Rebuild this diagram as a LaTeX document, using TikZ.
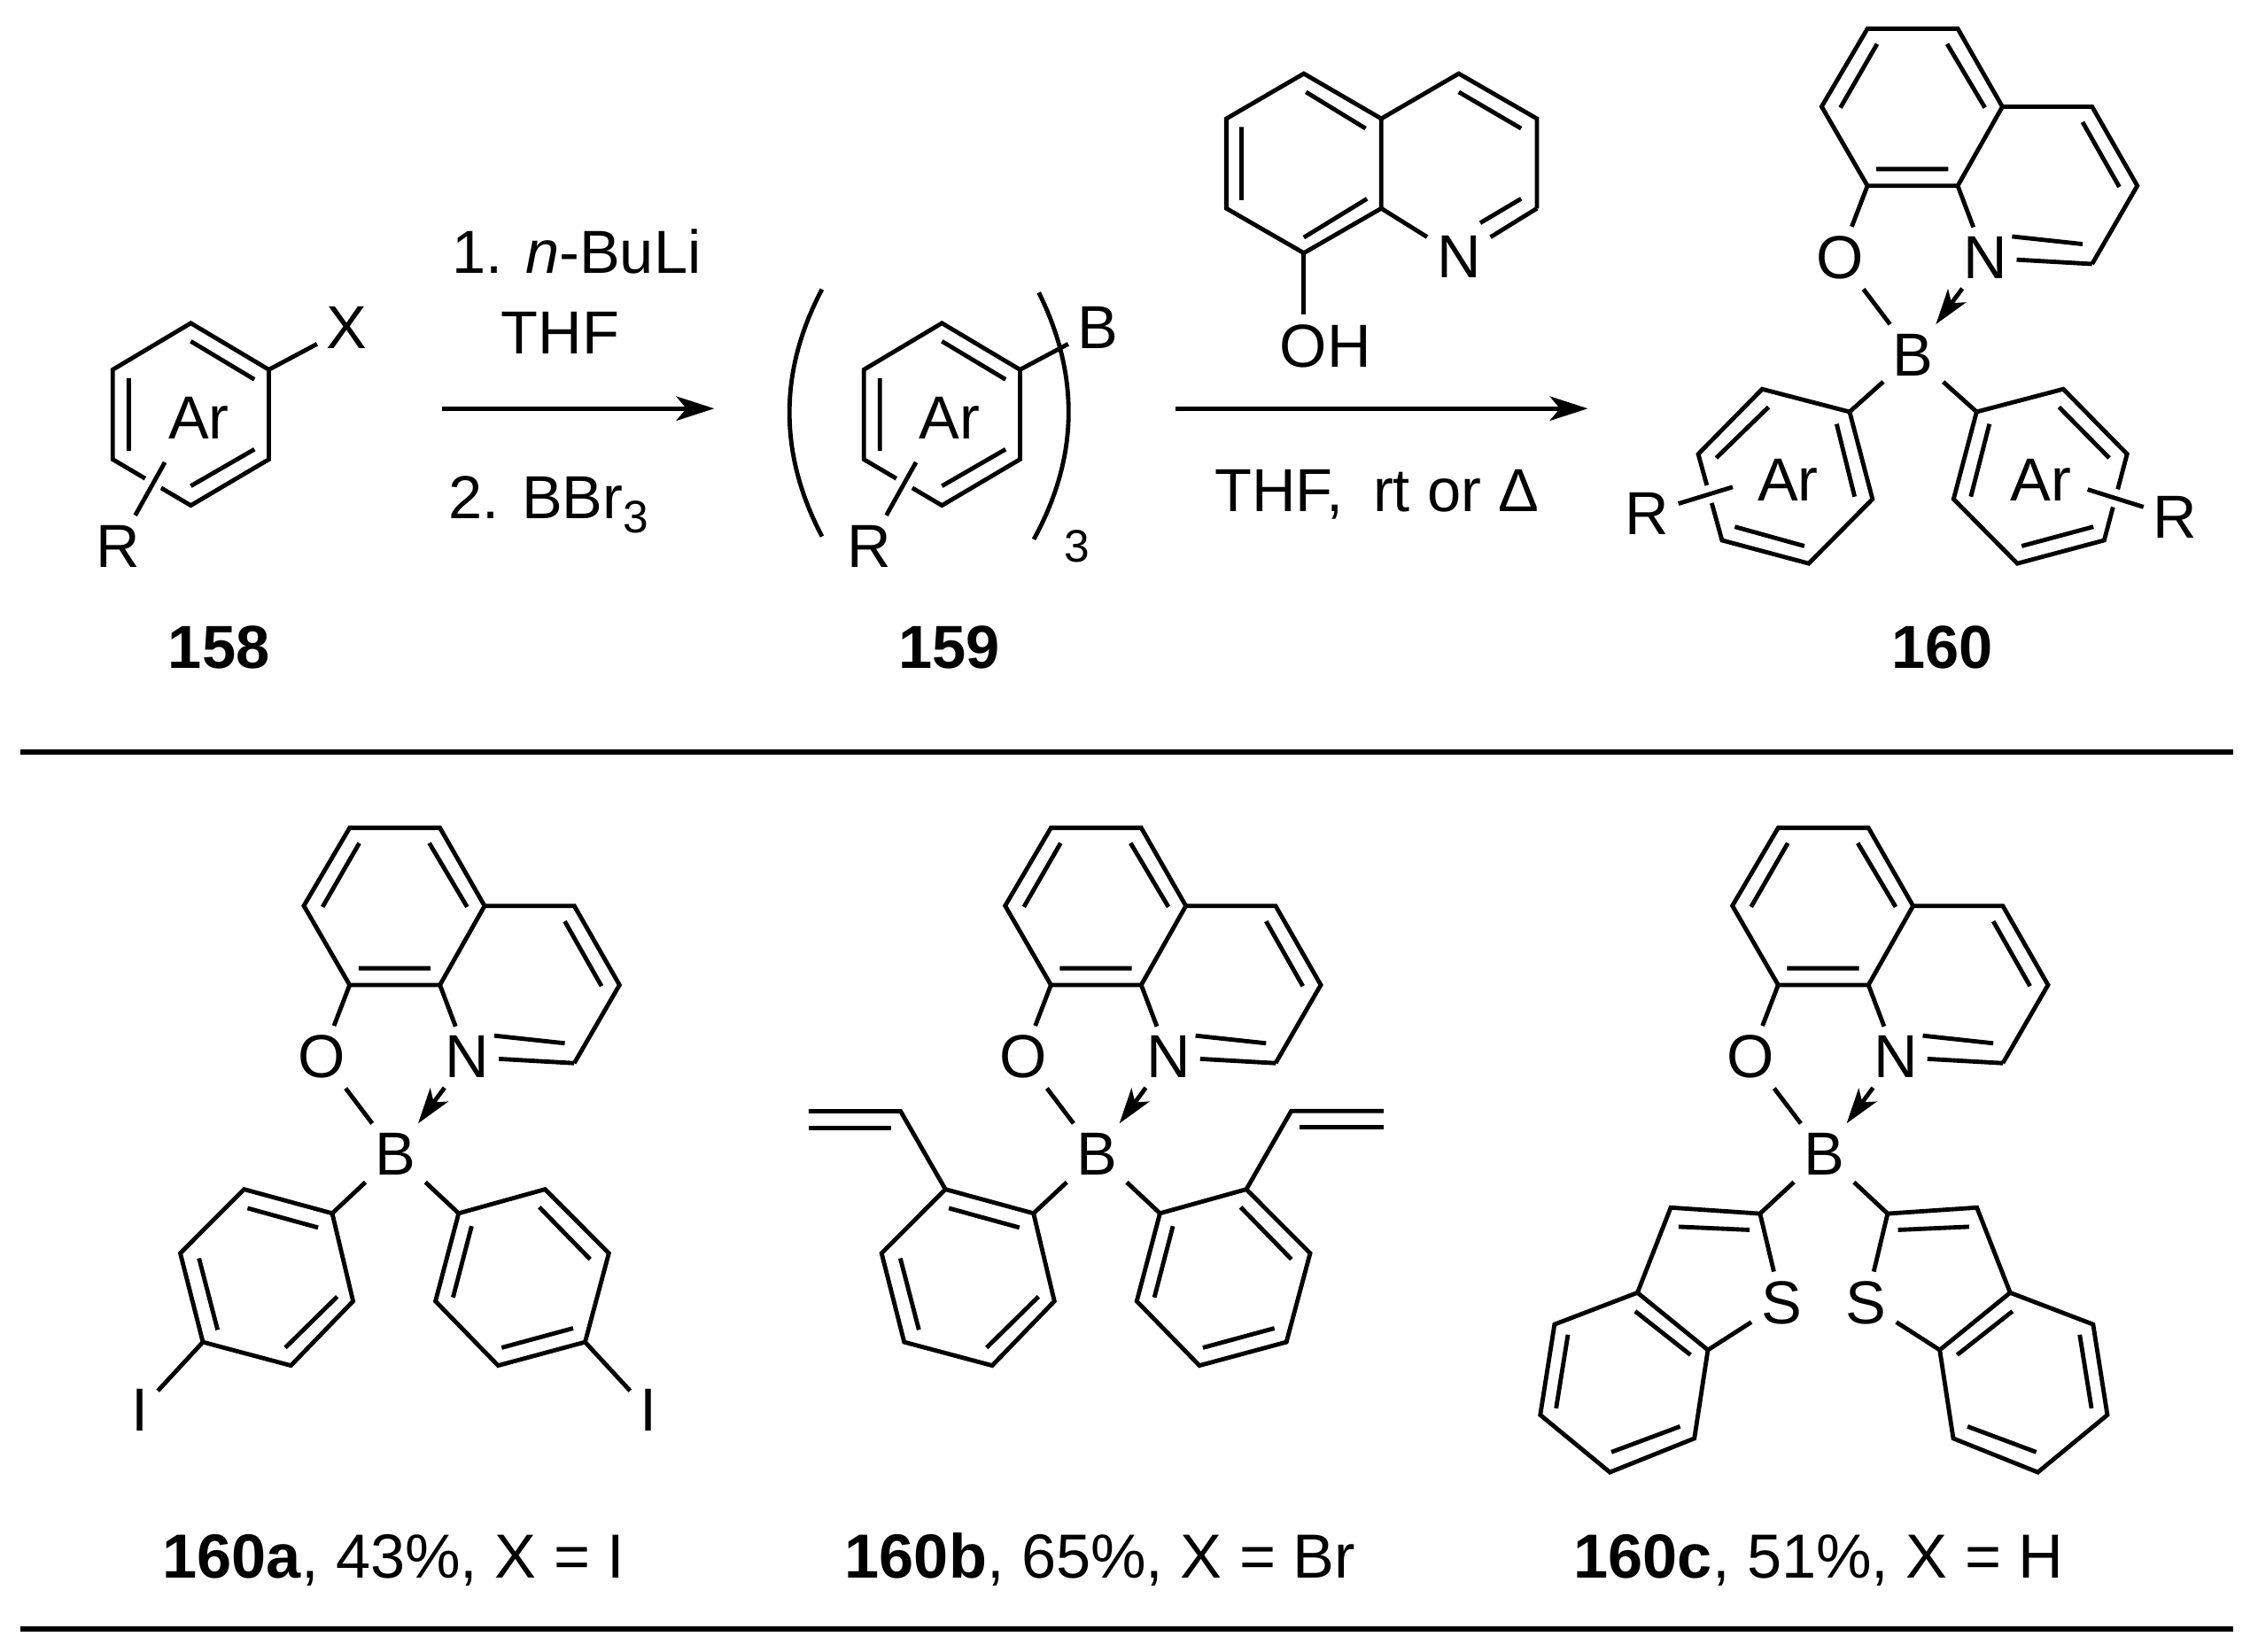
\documentclass[tikz,border=0pt]{standalone}
\usepackage{fontspec}
\setmainfont{Liberation Sans}
\usetikzlibrary{arrows.meta}

\tikzset{
  atom/.style={anchor=base, inner sep=1.5pt},
  yieldlabel/.style={anchor=base, font=\fontsize{12.3}{14}\selectfont},
  subst/.style={preaction={draw=white, line width=3.6pt}},
  arr/.style={-{Stealth[length=7.5pt, width=4.8pt, inset=2pt]}},
  dative/.style={-{Stealth[length=7pt, width=4.4pt, inset=1.8pt]}},
  rule/.style={line width=1.05pt},
  % quinolinolate chelate with boron
  core/.pic={
    \coordinate (-c8) at (242.8,684);
    \coordinate (-c8a) at (305.5,684);
    \coordinate (-c2) at (398.8,738.3);
    \node[atom] (-O) at (223.6,748.6) {O};
    \node[atom] (-N) at (324.4,748.6) {N};
    \node[atom] (-B) at (274.6,816) {B};
    \draw (-c8) -- (211,629) -- (242.8,574.9) -- (305.5,574.9) -- (336.5,629.1) -- (-c8a) -- cycle;
    \draw (336.5,629.1) -- (398.8,629.1) -- (430.2,684) -- (-c2);
    \draw (249.5,585.5) -- (224,629.8) (298.1,585.5) -- (324.4,629.8) (249,672.4) -- (298.9,672.4);
    \draw (392.2,639.8) -- (417.7,684.8) (343.2,719.2) -- (392.2,724.5);
    \draw (-c2) -- (-N);
    \draw (-c8) -- (-O);
    \draw (-c8a) -- (-N);
    \draw (-O) -- (-B);
    \draw[dative] (-N) -- (-B);
  },
  % phenyl rings on boron, left and right
  aryl left/.pic={
    \coordinate (-ipso) at (230.7,842.6);
    \coordinate (-para) at (140.9,932);
    \coordinate (-ortho) at (169.5,825.9);
    \draw (-ipso) -- (-ortho) -- (125.2,870.3) -- (-para) -- (202,948.3) -- (245.2,903.6) -- cycle;
    \draw (171.9,839) -- (220.9,852.5) (138.2,873.8) -- (151.1,923.5) (198.1,935.9) -- (234.2,900.4);
  },
  aryl right/.pic={
    \coordinate (-ipso) at (318.5,842.6);
    \coordinate (-para) at (406.3,932);
    \coordinate (-ortho) at (378.5,825.9);
    \draw (-ipso) -- (-ortho) -- (422.8,870.3) -- (-para) -- (345.9,948.3) -- (302.4,903.6) -- cycle;
    \draw (327.5,851.5) -- (314.6,901) (374.5,838.3) -- (409.8,874.5) (398,922.4) -- (348.3,935.9);
  },
  % benzothiophene
  thienyl/.pic={
    \coordinate (-c2) at (1222.2,842.8);
    \coordinate (-c7a) at (1186,937.5);
    \node[atom] (-S) at (1237,919.3) {S};
    \draw (-c2) -- (1160.2,838.6) -- (1137.1,897.7) -- (-c7a);
    \draw (1137.1,897.7) -- (1079.5,919.7) -- (1069.6,982.6) -- (1117.9,1022.4) -- (1176.6,998.9) -- (-c7a);
    \draw (1165.6,851.9) -- (1215,854.1) (1135.5,910.6) -- (1173.9,940.9);
    \draw (1088.8,926.9) -- (1080.6,978) (1119,1008.4) -- (1166.7,990.6);
    \draw (-c2) -- (-S);
    \draw (-S) -- (-c7a);
  }
}

\begin{document}
\begin{tikzpicture}[x=0.01cm, y=-0.01cm, line width=0.85pt,
  every node/.style={font=\fontsize{12}{14}\selectfont}]
\path[use as bounding box, fill=white] (0,0) rectangle (1568,1147);

% 158
\coordinate (xA) at (186.7,256.7);
\coordinate (rA) at (114.5,321);
\node[atom] (X) at (241,242.3) {X};
\node[atom] (RA) at (82,393.7) {R};
\node[atom] (ArA) at (138,304.5) {Ar};
\draw (132.5,224.4) -- (xA) -- (186.7,319) -- (132.5,351) -- (78.3,319) -- (78.3,256.7) -- cycle;
\draw (132.5,237) -- (176.7,263.5) (89.4,262.5) -- (89.4,313) (132.5,337.5) -- (176.7,312);
\draw (xA) -- (X);
\draw[subst] (rA) -- (RA);
\node[atom] (l158) at (152,464.4) {\textbf{158}};

% conditions 1
\coordinate (a1s) at (307.2,283.7);
\coordinate (a1e) at (496,283.7);
\draw[arr] (a1s) -- (a1e);
\node[atom] (t1) at (400.5,190) {1. \textit{n}-BuLi};
\node[atom] (t2) at (389,245.6) {THF};
\node[atom] (t3) at (381,360) {2. BBr\raisebox{-2.8pt}{\fontsize{9}{10}\selectfont 3}};

% 159
\coordinate (xB) at (708.3,256.7);
\coordinate (rB) at (636.1,321);
\node[atom] (BB) at (762.6,242.3) {B};
\node[atom] (RB) at (603.6,393.7) {R};
\node[atom] (ArB) at (659.6,304.5) {Ar};
\draw (654.1,224.4) -- (xB) -- (708.3,319) -- (654.1,351) -- (599.9,319) -- (599.9,256.7) -- cycle;
\draw (654.1,237) -- (698.3,263.5) (611,262.5) -- (611,313) (654.1,337.5) -- (698.3,312);
\draw (xB) -- (BB);
\draw[subst] (rB) -- (RB);
\draw (570.8,200.9) .. controls (540.7,258) and (540.7,315) .. (570.8,372.5);
\draw (721.4,203.2) .. controls (749.5,260) and (749.5,317) .. (717.9,374.5);
\node[atom, font=\fontsize{9}{10}\selectfont] (three) at (748,390) {3};
\node[atom] (l159) at (659,464.4) {\textbf{159}};

% hydroxyquinoline
\coordinate (c8) at (905.4,175.7);
\coordinate (c8a) at (959.2,144.7);
\coordinate (c2) at (1067.3,144.7);
\node[atom] (N) at (1013,192.8) {N};
\node[atom] (OH) at (920.4,254.7) {OH};
\draw (c8) -- (851.6,144.7) -- (851.6,82.4) -- (905.4,51.1) -- (959.2,82.4) -- (c8a) -- cycle;
\draw (959.2,82.4) -- (1013,51.1) -- (1067.3,82.4) -- (c2);
\draw (906.9,63.9) -- (948.3,89.2) (862.1,88.2) -- (862.1,139) (905.4,164.9) -- (949.3,138);
\draw (1013,63.9) -- (1056.3,89.2) (1056.3,138) -- (1027.9,154.8);
\draw (c2) -- (N);
\draw (c8a) -- (N);
\draw (c8) -- (OH.north -| c8);

% conditions 2
\coordinate (a2s) at (816.3,283.7);
\coordinate (a2e) at (1102.6,283.7);
\draw[arr] (a2s) -- (a2e);
\node[atom] (t4) at (956,355) {THF,\hspace{0.22em} rt or Δ};

% 160
\pic (top) at (1054,-555) {core};
\coordinate (cL) at (1284.4,286);
\coordinate (cR) at (1372.6,286);
\node[atom] (RL) at (1143.5,371) {R};
\node[atom] (RR) at (1510.5,373.5) {R};
\node[atom] (ArL) at (1241.6,348) {Ar};
\node[atom] (ArR) at (1417.4,348) {Ar};
\draw (cL) -- (1223.7,270.2) -- (1179.3,315.3) -- (1195.8,375.2) -- (1256,391.3) -- (1300.3,346.6) -- cycle;
\draw (1275.4,294.4) -- (1287.9,344.9) (1228.1,282.7) -- (1191.8,318) (1204.7,365.8) -- (1253,379.2);
\draw (cR) -- (1432.8,270.2) -- (1477.1,315.3) -- (1461.2,375.2) -- (1400.9,391.3) -- (1356.6,346.6) -- cycle;
\draw (1381.5,294.4) -- (1368.6,344.9) (1429.8,282.7) -- (1464.7,318) (1453.7,365.8) -- (1403.9,379.2);
\draw (top-B) -- (cL);
\draw (top-B) -- (cR);
\coordinate (rL) at (1203.2,338.2);
\coordinate (rR) at (1449.7,339.9);
\draw[subst] (rL) -- (RL);
\draw[subst] (rR) -- (RR);
\node[atom] (l160) at (1348.6,464.4) {\textbf{160}};

\coordinate (r1s) at (14,522);
\coordinate (r1e) at (1551,522);
\draw[rule] (r1s) -- (r1e);

% 160a
\pic (a) at (0,0) {core};
\pic (aL) at (0,0) {aryl left};
\pic (aR) at (0,0) {aryl right};
\node[atom] (IL) at (97,994) {I};
\node[atom] (IR) at (450.2,994) {I};
\draw (a-B) -- (aL-ipso);
\draw (a-B) -- (aR-ipso);
\draw (aL-para) -- (IL);
\draw (aR-para) -- (IR);
\node[yieldlabel] (l160a) at (273.5,1096) {\textbf{160a}, 43\%, X = I};

% 160b
\pic (b) at (487,0) {core};
\pic (bL) at (487,0) {aryl left};
\pic (bR) at (487,0) {aryl right};
\coordinate (vL) at (625.4,771.7);
\coordinate (vR) at (896.7,771.5);
\draw (bL-ortho) -- (vL) -- (561.5,771.7);
\draw (561.5,783.4) -- (618.8,783.4);
\draw (bR-ortho) -- (vR) -- (961,771.5);
\draw (902.2,782.9) -- (961,782.9);
\draw (b-B) -- (bL-ipso);
\draw (b-B) -- (bR-ipso);
\node[yieldlabel] (l160b) at (764,1096) {\textbf{160b}, 65\%, X = Br};

% 160c
\pic (c) at (992,0) {core};
\pic (cA) at (0,0) {thienyl};
\pic[xscale=-1] (cB) at (2533,0) {thienyl};
\draw (c-B) -- (cA-c2);
\draw (c-B) -- (cB-c2);
\node[yieldlabel] (l160c) at (1263,1096) {\textbf{160c}, 51\%, X = H};

\coordinate (r2s) at (14,1131);
\coordinate (r2e) at (1551,1131);
\draw[rule] (r2s) -- (r2e);
\end{tikzpicture}
\end{document}
